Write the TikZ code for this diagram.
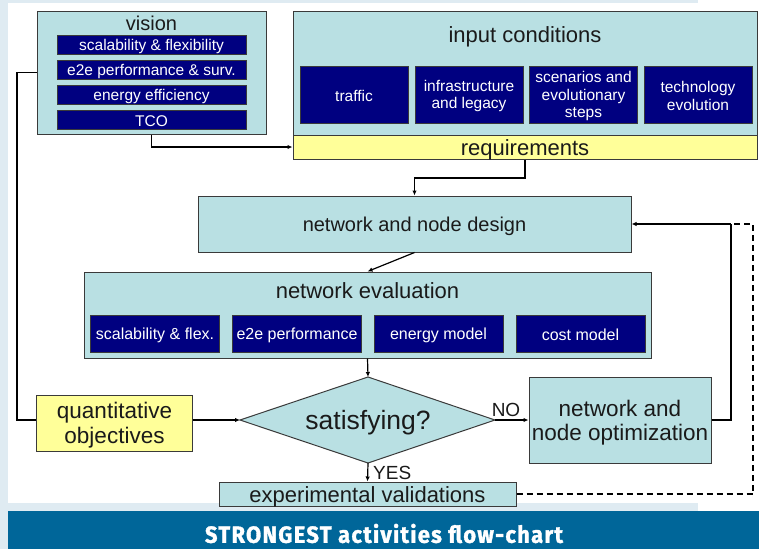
\documentclass[tikz,border=0pt]{standalone}
\usepackage{fontspec}
\setmainfont{Liberation Sans}
\newfontfamily\bannerfont{Fira Sans}[LetterSpace=6,FakeBold=1.5]
\usetikzlibrary{arrows.meta}
\definecolor{tealfill}{HTML}{B9E0E3}
\definecolor{navyfill}{HTML}{000080}
\definecolor{yelfill}{HTML}{FFFF99}
\definecolor{lightbg}{HTML}{DFEBF2}
\definecolor{bannerblue}{HTML}{006699}
\definecolor{edgegray}{HTML}{3A3A3A}
\definecolor{inktext}{HTML}{1A1A1A}
\begin{document}
\begin{tikzpicture}[x=1pt,y=-1pt,
  panel/.style={draw=edgegray,line width=1pt,fill=tealfill,inner sep=0pt},
  navybox/.style={draw=edgegray,line width=0.8pt,fill=navyfill,inner sep=0pt},
  yelbox/.style={draw=edgegray,line width=1pt,fill=yelfill,inner sep=0pt},
  txt/.style={inner sep=0pt,text=inktext,align=center,yshift=-2.5pt},
  wtxt/.style={inner sep=0pt,text=white,align=center,yshift=-1.5pt,font=\fontsize{15.5}{17.5}\selectfont},
  conn/.style={line width=1.2pt,draw=black},
  arr/.style={conn,-{Latex[length=5pt,width=4.5pt]}},
  dashconn/.style={line width=1.2pt,draw=black,dash pattern=on 6pt off 4pt},
  lbl/.style={inner sep=0pt,text=inktext,font=\fontsize{19}{22}\selectfont}]
% background
\useasboundingbox (0,0) rectangle (759,549);
\fill[lightbg] (0,0) rectangle (759,549);
\fill[white] (8,3) rectangle (759,503);
\fill[white] (698,0) rectangle (759,511);
\fill[bannerblue] (8,511) rectangle (759,549);
\node[inner sep=0pt,text=white] (banner) at (384,533.5) {\resizebox{358pt}{19pt}{\bannerfont\bfseries STRONGEST activities flow-chart}};

% vision
\node[panel,minimum width=229pt,minimum height=123pt] (vision) at (151.5,72.5) {};
\node[txt,font=\fontsize{20}{24}\selectfont] (visiont) at (151.5,21) {vision};
\node[navybox,minimum width=189pt,minimum height=19pt] (v1) at (151.5,44.5) {};
\node[wtxt] (v1t) at (v1) {scalability \& flexibility};
\node[navybox,minimum width=189pt,minimum height=19pt] (v2) at (151.5,69.5) {};
\node[wtxt] (v2t) at (v2) {e2e performance \& surv.};
\node[navybox,minimum width=189pt,minimum height=19pt] (v3) at (151.5,94.5) {};
\node[wtxt] (v3t) at (v3) {energy efficiency};
\node[navybox,minimum width=189pt,minimum height=19pt] (v4) at (151.5,119.5) {};
\node[wtxt] (v4t) at (v4) {TCO};

% input conditions
\node[panel,minimum width=464pt,minimum height=124pt] (input) at (525,73) {};
\node[txt,font=\fontsize{22}{26}\selectfont] (inputt) at (525,34) {input conditions};
\node[navybox,minimum width=108pt,minimum height=57pt] (i1) at (354,94.5) {};
\node[wtxt] (i1t) at (i1) {traffic};
\node[navybox,minimum width=108pt,minimum height=57pt] (i2) at (469,94.5) {};
\node[wtxt] (i2t) at (i2) {infrastructure\\and legacy};
\node[navybox,minimum width=108pt,minimum height=57pt] (i3) at (583.5,94.5) {};
\node[wtxt] (i3t) at (i3) {scenarios and\\evolutionary\\steps};
\node[navybox,minimum width=108pt,minimum height=57pt] (i4) at (698,94.5) {};
\node[wtxt] (i4t) at (i4) {technology\\evolution};
\node[yelbox,minimum width=464pt,minimum height=24pt] (req) at (525,147) {};
\node[txt,font=\fontsize{22}{26}\selectfont] (reqt) at (req) {requirements};

% design
\node[panel,minimum width=433pt,minimum height=56pt] (design) at (414.5,224) {};
\node[txt,font=\fontsize{20}{24}\selectfont] (designt) at (design) {network and node design};

% evaluation
\node[panel,minimum width=567pt,minimum height=86pt] (eval) at (367.5,315) {};
\node[txt,font=\fontsize{22}{26}\selectfont] (evalt) at (367.5,288) {network evaluation};
\node[navybox,minimum width=129pt,minimum height=37pt] (e1) at (155,333.5) {};
\node[wtxt,font=\fontsize{16}{19}\selectfont] (e1t) at (e1) {scalability \& flex.};
\node[navybox,minimum width=129pt,minimum height=37pt] (e2) at (297,333.5) {};
\node[wtxt,font=\fontsize{16}{19}\selectfont] (e2t) at (e2) {e2e performance};
\node[navybox,minimum width=129pt,minimum height=37pt] (e3) at (438.5,333.5) {};
\node[wtxt,font=\fontsize{16}{19}\selectfont] (e3t) at (e3) {energy model};
\node[navybox,minimum width=129pt,minimum height=37pt] (e4) at (580.5,333.5) {};
\node[wtxt,font=\fontsize{16}{19}\selectfont] (e4t) at (e4) {cost model};

% decision
\coordinate (diaN) at (368,377);
\coordinate (diaS) at (368,463);
\coordinate (diaW) at (240,420);
\coordinate (diaE) at (495,420);
\draw[draw=edgegray,line width=1pt,fill=tealfill,line join=miter] (diaN) -- (diaE) -- (diaS) -- (diaW) -- cycle;
\node[txt,font=\fontsize{26.5}{30}\selectfont] (dia) at (368,420) {satisfying?};

\node[yelbox,minimum width=156pt,minimum height=56pt] (quant) at (114.5,423) {};
\node[txt,font=\fontsize{22.5}{25}\selectfont] (quantt) at (quant) {quantitative\\objectives};
\node[panel,minimum width=182pt,minimum height=86pt] (opt) at (620,420) {};
\node[txt,font=\fontsize{22.5}{24}\selectfont] (optt) at (opt) {network and\\node optimization};
\node[panel,minimum width=297pt,minimum height=24pt] (exp) at (367.5,494) {};
\node[txt,font=\fontsize{22}{26}\selectfont] (expt) at (exp) {experimental validations};

% connectors
\coordinate (k1) at (525,178);
\coordinate (k2) at (17,420);
\coordinate (k3) at (731,224);
\coordinate (k4) at (753,224);
\draw[arr] (vision.south) |- (req.west);
\draw[arr] (req.south) -- (k1) -| (design.north);
\draw[arr] (design.south) -- (eval.north);
\draw[arr] (eval.south) -- (diaN);
\draw[conn] (vision.west) -| (k2) -- (quant.west |- k2);
\draw[arr] (quant.east |- diaW) -- (diaW);
\draw[arr] (diaE) -- (opt.west |- diaE);
\node[lbl] (no) at (506,410) {NO};
\draw[conn] (opt.east |- k2) -| (k3);
\draw[arr] (k3) -- (design.east);
\draw[arr] (diaS) -- (exp.north);
\node[lbl,anchor=west] (yes) at (373,473) {YES};
\draw[dashconn] (exp.east) -| (k4) -- (k3);
\end{tikzpicture}
\end{document}
